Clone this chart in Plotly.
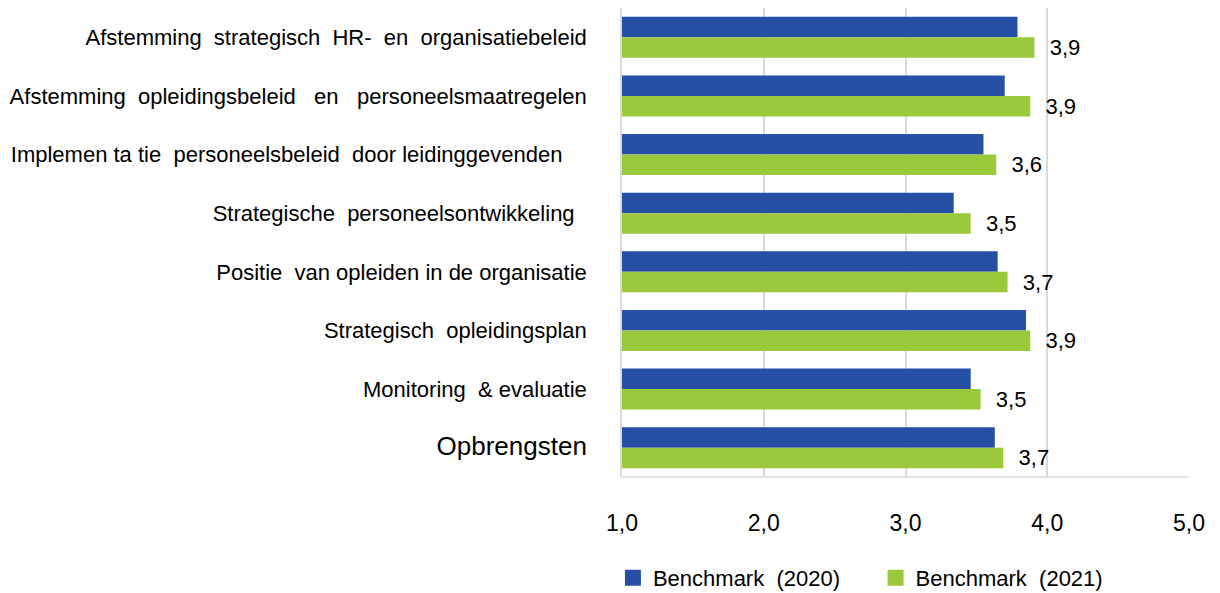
import plotly.graph_objects as go

categories = [
    "Afstemming\u00a0\u00a0strategisch\u00a0\u00a0HR-\u00a0\u00a0en\u00a0\u00a0organisatiebeleid",
    "Afstemming\u00a0\u00a0opleidingsbeleid\u00a0\u00a0\u00a0en\u00a0\u00a0\u00a0personeelsmaatregelen",
    "Implemen\u00a0ta\u00a0tie\u00a0\u00a0personeelsbeleid\u00a0\u00a0door leidinggevenden\u00a0\u00a0\u00a0\u00a0",
    "Strategische\u00a0\u00a0personeelsontwikkeling\u00a0\u00a0",
    "Positie\u00a0\u00a0van opleiden in de organisatie",
    "Strategisch\u00a0\u00a0opleidingsplan",
    "Monitoring\u00a0\u00a0& evaluatie",
    "<span style='font-size:26px'>Opbrengsten</span>",
]
bench_2020 = [3.79, 3.70, 3.55, 3.34, 3.65, 3.85, 3.46, 3.63]
bench_2021 = [3.91, 3.88, 3.64, 3.46, 3.72, 3.88, 3.53, 3.69]
tick_vals = [1, 2, 3, 4, 5]
tick_text = ["1,0", "2,0", "3,0", "4,0", "5,0"]

BLUE = "#2550A3"
GREEN = "#9BC93C"
FONT = "Liberation Sans Narrow, Arial Narrow, Liberation Sans, Arial, sans-serif"

labels_2021 = ["\u00a0\u00a0" + f"{v:.1f}".replace(".", ",") for v in bench_2021]

fig = go.Figure()
fig.add_trace(go.Bar(
    y=categories, x=bench_2020, orientation="h", name="Benchmark\u00a0\u00a0(2020)",
    marker=dict(color=BLUE, line=dict(width=0)), showlegend=False,
))
fig.add_trace(go.Bar(
    y=categories, x=bench_2021, orientation="h", name="Benchmark\u00a0\u00a0(2021)",
    marker=dict(color=GREEN, line=dict(width=0)), showlegend=False,
    text=labels_2021, textposition="outside", cliponaxis=False, constraintext="none",
    textfont=dict(family=FONT, size=22, color="#000000"),
))
# legend entries
fig.add_trace(go.Scatter(x=[None], y=[None], mode="markers",
                         name="Benchmark\u00a0\u00a0(2020)" + "\u00a0" * 5,
                         marker=dict(symbol="square", size=20, color=BLUE)))
fig.add_trace(go.Scatter(x=[None], y=[None], mode="markers", name="Benchmark\u00a0\u00a0(2021)",
                         marker=dict(symbol="square", size=20, color=GREEN)))

fig.update_layout(
    width=1212, height=585,
    margin=dict(l=614, r=31, t=0, b=116, autoexpand=False),
    paper_bgcolor="white", plot_bgcolor="white",
    barmode="group", bargap=0.3, bargroupgap=0,
    font=dict(family=FONT, size=22, color="#000000"),
    showlegend=True,
    legend=dict(orientation="h", x=-0.016, xanchor="left", y=-0.215, yanchor="middle",
                font=dict(family=FONT, size=22, color="#000000"),
                itemwidth=30, tracegroupgap=0),
)
fig.update_xaxes(
    range=[1, 5], tickvals=tick_vals, ticktext=tick_text, automargin=False,
    showgrid=True, gridcolor="#D9D9D9", gridwidth=1.5,
    zeroline=False, showline=False, ticks="", ticklabelstandoff=30,
    tickfont=dict(family=FONT, size=23),
)
fig.update_yaxes(
    autorange="reversed", type="category", automargin=False,
    showline=True, linecolor="#D9D9D9", linewidth=1.5, mirror=False,
    ticks="", ticklabelstandoff=29, showgrid=False,
    tickfont=dict(family=FONT, size=22),
)
fig.add_shape(type="line", xref="paper", yref="paper", x0=0, x1=1, y0=0, y1=0,
              line=dict(color="#D9D9D9", width=1.5))

fig.write_html("out.html")
